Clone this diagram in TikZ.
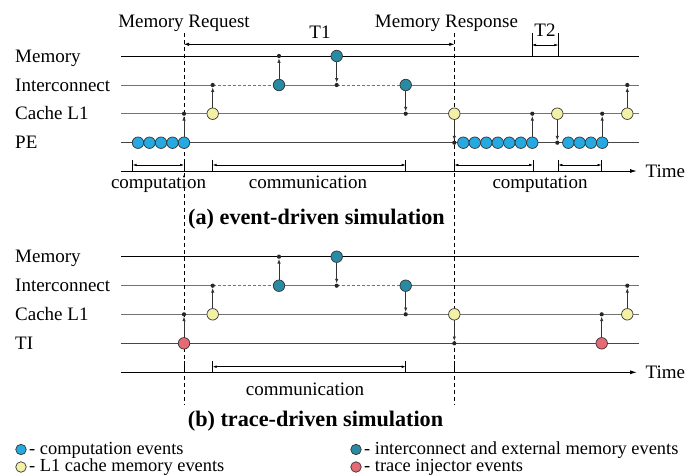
\documentclass[tikz,border=0pt]{standalone}
\usepackage{fontspec}
\setmainfont{Liberation Serif}
\usetikzlibrary{arrows.meta}
\definecolor{compblue}{RGB}{38,169,224}
\definecolor{icteal}{RGB}{41,139,163}
\definecolor{cacheyel}{RGB}{243,241,166}
\definecolor{tired}{RGB}{230,106,118}
\definecolor{rowgray}{RGB}{115,115,115}
\definecolor{rowdark}{RGB}{70,70,70}
\pgfdeclarelayer{bg}
\pgfsetlayers{bg,main}
\begin{document}
\begin{tikzpicture}[x=1pt,y=-1pt,
 every node/.style={font=\fontsize{19}{22}\selectfont},
 ev/.style={circle,draw=black!80,line width=0.7pt,inner sep=0pt,minimum size=11.5pt},
 evc/.style={ev,fill=compblue}, evy/.style={ev,fill=cacheyel},
 evt/.style={ev,fill=icteal}, evr/.style={ev,fill=tired},
 legc/.style={ev,minimum size=10.5pt},
 legtxt/.style={anchor=base west,inner sep=0pt,font=\fontsize{18.4}{21}\selectfont},
 dotn/.style={circle,fill=black!85,inner sep=0pt,minimum size=4.2pt},
 lbl/.style={anchor=base west,inner sep=0pt},
 ctr/.style={anchor=base,inner sep=0pt},
 captxt/.style={anchor=base,inner sep=0pt,font=\fontsize{22.2}{26}\selectfont\bfseries},
 rowg/.style={line width=0.9pt,draw=rowgray},
 rowd/.style={line width=0.9pt,draw=rowdark},
 rowm/.style={line width=0.9pt,draw=black},
 rowdash/.style={line width=0.9pt,draw=rowgray,dash pattern=on 3pt off 2pt},
 sig/.style={line width=0.8pt,draw=black!80,-{Latex[length=4.5pt,width=3.4pt]}},
 spanarr/.style={line width=0.6pt,{Latex[length=4pt,width=2.6pt]}-{Latex[length=4pt,width=2.6pt]}},
 tarr/.style={line width=0.6pt,{Latex[length=5pt,width=3.4pt]}-{Latex[length=5pt,width=3.4pt]}},
 tickln/.style={line width=0.7pt},
 timeaxis/.style={line width=0.9pt,-{Latex[length=7pt,width=4pt]}},
 reqline/.style={line width=0.8pt,dash pattern=on 4pt off 3pt}
]
\useasboundingbox (0,0) rectangle (688,475);

% ---------------- top labels ----------------
\node[ctr] (req) at (184,27.7) {Memory Request};
\node[ctr] (resp) at (446.5,27.7) {Memory Response};
\node[ctr] (t1) at (320,38.3) {T1};
\node[ctr] (t2) at (545,36.7) {T2};
\coordinate (reqTop) at (184,33);
\coordinate (reqBot) at (184,405);
\coordinate (respTop) at (454.3,33);
\coordinate (respBot) at (454.3,405);
\draw[reqline] (reqTop) -- (reqBot);
\draw[reqline] (respTop) -- (respBot);
\draw[tarr] (184,44.3) coordinate (t1a) -- (454.3,44.3) coordinate (t1b);
\coordinate (t2aT) at (532,33); \coordinate (t2aB) at (532,56);
\coordinate (t2bT) at (558.3,33); \coordinate (t2bB) at (558.3,56);
\draw[tickln] (t2aT) -- (t2aB);
\draw[tickln] (t2bT) -- (t2bB);
\draw[spanarr] (532,45) coordinate (t2l) -- (558.3,45) coordinate (t2r);

% ---------------- (a) event-driven ----------------
\node[lbl] (aLM) at (15,62) {Memory};
\node[lbl] (aLI) at (15,91) {Interconnect};
\node[lbl] (aLC) at (15,119.7) {Cache L1};
\node[lbl] (aLP) at (15,148.7) {PE};
\coordinate (aMs) at (121,56);   \coordinate (aMe) at (639,56);
\coordinate (aIs) at (121,85);   \coordinate (aIe) at (639,85);
\coordinate (aCs) at (121,113.7);\coordinate (aCe) at (639,113.7);
\coordinate (aPs) at (121,142.7);\coordinate (aPe) at (639,142.7);

\foreach \i/\x in {1/138,2/149.5,3/161,4/172.5,5/184}
  \node[evc] (aP\i) at (\x,142.7) {};
\node[dotn] (aD0) at (184,113.7) {};
\node[evy] (aY1) at (212.7,113.7) {};
\node[dotn] (aD1) at (212.7,85) {};
\node[evt] (aT1) at (279,85) {};
\node[dotn] (aD2) at (279,56) {};
\node[evt] (aT2) at (336.7,56) {};
\node[dotn] (aD3) at (336.7,85) {};
\node[evt] (aT3) at (405.7,85) {};
\node[dotn] (aD4) at (405.7,113.7) {};
\node[evy] (aY2) at (454.3,113.7) {};
\node[dotn] (aD5) at (454.3,142.7) {};
\foreach \i/\x in {1/463.3,2/474.8,3/486.3,4/497.8,5/509.3,6/520.8,7/532.3}
  \node[evc] (aQ\i) at (\x,142.7) {};
\node[dotn] (aD6) at (532.3,113.7) {};
\node[evy] (aY3) at (557.3,113.7) {};
\node[dotn] (aD7) at (557.3,142.7) {};
\foreach \i/\x in {1/568.3,2/579.6,3/590.9,4/602.2}
  \node[evc] (aR\i) at (\x,142.7) {};
\node[dotn] (aD8) at (602.2,113.7) {};
\node[evy] (aY4) at (627.3,113.7) {};
\node[dotn] (aD9) at (627.3,85) {};

\begin{pgfonlayer}{bg}
\draw[rowm] (aMs) -- (aMe);
\draw[rowg] (aIs) -- (aD1.center);
\draw[rowdash] (aD1.center) -- (aT1.center);
\draw[rowg] (aT1.center) -- (aD3.center);
\draw[rowdash] (aD3.center) -- (aT3.center);
\draw[rowg] (aT3.center) -- (aIe);
\draw[rowg] (aCs) -- (aCe);
\draw[rowd] (aPs) -- (aPe);
\end{pgfonlayer}

\draw[sig] (aP5) -- (aD0);
\draw[sig] (aY1) -- (aD1);
\draw[sig] (aT1) -- (aD2);
\draw[sig] (aT2) -- (aD3);
\draw[sig] (aT3) -- (aD4);
\draw[sig] (aY2) -- (aD5);
\draw[sig] (aQ7) -- (aD6);
\draw[sig] (aY3) -- (aD7);
\draw[sig] (aR4) -- (aD8);
\draw[sig] (aY4) -- (aD9);

% time axis (a)
\coordinate (aAx) at (121,171);
\node[lbl] (aTime) at (645.5,177.3) {Time};
\draw[timeaxis] (aAx) -- (637,171) coordinate (aAxEnd);
\foreach \n/\x in {k1/132.7,k2/184,k3/212.7,k4/405.7,k5/454.3,k6/533,k7/558.3,k8/601.5}{
  \coordinate (a\n t) at (\x,159.5);
  \coordinate (a\n b) at (\x,171);
  \draw[tickln] (a\n t) -- (a\n b);
}
\draw[spanarr] (132.7,165) coordinate (aS1) -- (184,165) coordinate (aS2);
\draw[spanarr] (212.7,165) coordinate (aS3) -- (405.7,165) coordinate (aS4);
\draw[spanarr] (454.3,165) coordinate (aS5) -- (533,165) coordinate (aS6);
\draw[spanarr] (558.3,165) coordinate (aS7) -- (601.5,165) coordinate (aS8);
\node[ctr] (aComp1) at (158.5,188.3) {computation};
\node[ctr] (aComm) at (308,188.3) {communication};
\node[ctr] (aComp2) at (540,188.3) {computation};
\node[captxt] (aCap) at (316.5,224) {(a) event-driven simulation};

% ---------------- (b) trace-driven ----------------
\node[lbl] (bLM) at (15,262.7) {Memory};
\node[lbl] (bLI) at (15,291.7) {Interconnect};
\node[lbl] (bLC) at (15,320.3) {Cache L1};
\node[lbl] (bLP) at (15,349.3) {TI};
\coordinate (bMs) at (121,256.7);   \coordinate (bMe) at (639,256.7);
\coordinate (bIs) at (121,285.7);   \coordinate (bIe) at (639,285.7);
\coordinate (bCs) at (121,314.3);   \coordinate (bCe) at (639,314.3);
\coordinate (bPs) at (121,343.3);   \coordinate (bPe) at (639,343.3);

\node[evr] (bR1) at (184,343.3) {};
\node[dotn] (bD0) at (184,314.3) {};
\node[evy] (bY1) at (212.7,314.3) {};
\node[dotn] (bD1) at (212.7,285.7) {};
\node[evt] (bT1) at (279,285.7) {};
\node[dotn] (bD2) at (279,256.7) {};
\node[evt] (bT2) at (336.7,256.7) {};
\node[dotn] (bD3) at (336.7,285.7) {};
\node[evt] (bT3) at (405.7,285.7) {};
\node[dotn] (bD4) at (405.7,314.3) {};
\node[evy] (bY2) at (454.3,314.3) {};
\node[dotn] (bD5) at (454.3,343.3) {};
\node[evr] (bR2) at (601.7,343.3) {};
\node[dotn] (bD6) at (601.7,314.3) {};
\node[evy] (bY4) at (627.3,314.3) {};
\node[dotn] (bD9) at (627.3,285.7) {};

\begin{pgfonlayer}{bg}
\draw[rowm] (bMs) -- (bMe);
\draw[rowg] (bIs) -- (bD1.center);
\draw[rowdash] (bD1.center) -- (bT1.center);
\draw[rowg] (bT1.center) -- (bD3.center);
\draw[rowdash] (bD3.center) -- (bT3.center);
\draw[rowg] (bT3.center) -- (bIe);
\draw[rowg] (bCs) -- (bCe);
\draw[rowd] (bPs) -- (bPe);
\end{pgfonlayer}

\draw[sig] (bR1) -- (bD0);
\draw[sig] (bY1) -- (bD1);
\draw[sig] (bT1) -- (bD2);
\draw[sig] (bT2) -- (bD3);
\draw[sig] (bT3) -- (bD4);
\draw[sig] (bY2) -- (bD5);
\draw[sig] (bR2) -- (bD6);
\draw[sig] (bY4) -- (bD9);

% time axis (b)
\coordinate (bAx) at (121,372.3);
\node[lbl] (bTime) at (645.5,378.3) {Time};
\draw[timeaxis] (bAx) -- (637,372.3) coordinate (bAxEnd);
\foreach \n/\x in {k2/184,k3/212.7,k4/405.7,k5/454.3}{
  \coordinate (b\n t) at (\x,361);
  \coordinate (b\n b) at (\x,372.3);
  \draw[tickln] (b\n t) -- (b\n b);
}
\draw[spanarr] (212.7,366.7) coordinate (bS3) -- (405.7,366.7) coordinate (bS4);
\node[ctr] (bComm) at (305,395.7) {communication};
\node[captxt] (bCap) at (315.5,426.7) {(b) trace-driven simulation};

% ---------------- legend ----------------
\node[legc,fill=compblue] (lg1) at (21,449.5) {};
\node[legtxt] (lg1t) at (29,454) {- computation events};
\node[legc,fill=cacheyel] (lg2) at (21,467) {};
\node[legtxt] (lg2t) at (29,471.5) {- L1 cache memory events};
\node[legc,fill=icteal] (lg3) at (356,449.5) {};
\node[legtxt] (lg3t) at (364,454) {- interconnect and external memory events};
\node[legc,fill=tired] (lg4) at (356,467) {};
\node[legtxt] (lg4t) at (364,471.5) {- trace injector events};
\end{tikzpicture}
\end{document}
